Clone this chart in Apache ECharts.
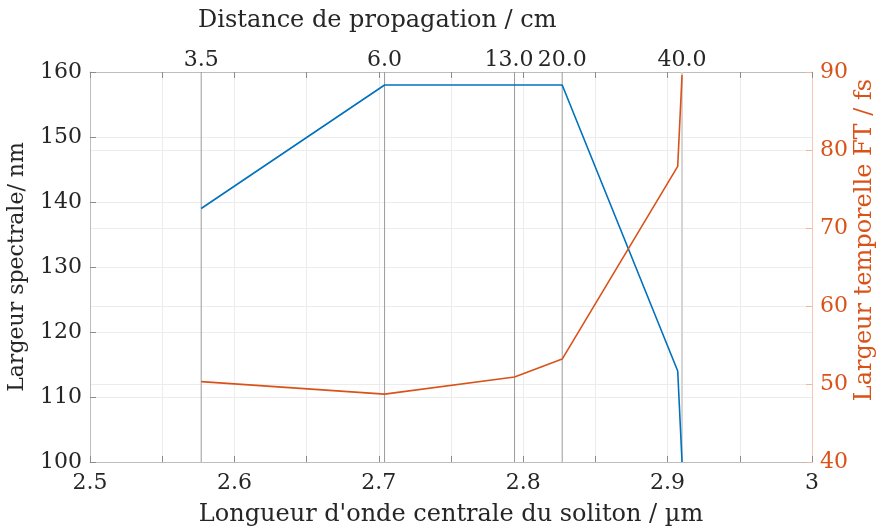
<!DOCTYPE html>
<html>
<head>
<meta charset="utf-8">
<script src="https://cdn.jsdelivr.net/npm/echarts@6/dist/echarts.min.js"></script>
<style>
  html, body { margin: 0; padding: 0; background: #fff; }
  #chart { width: 878px; height: 530px; }
</style>
</head>
<body>
<div id="chart"></div>
<script>
// Central wavelength of the soliton (µm) at each measured point
const wavelength = [2.577, 2.704, 2.794, 2.827, 2.907, 2.910];
// Spectral width (nm), left axis
const spectralWidth = [139, 158, 158, 158, 114, 100];
// Fourier-transform-limited temporal width (fs), right axis
const temporalWidth = [50.3, 48.7, 50.9, 53.2, 77.9, 89.6];
// Propagation distances (cm) marked on the top axis
const distancePositions = [2.577, 2.704, 2.794, 2.827, 2.910];
const distanceLabels = ['3.5', '6.0', '13.0', '20.0', '40.0'];
// Bottom axis tick labels
const xTickLabels = ['2.5', '2.6', '2.7', '2.8', '2.9', '3'];

const FONT = 'DejaVu Serif';
const BLUE = '#0072BD';
const ORANGE = '#D95319';
const TEXT = '#262626';
const Y_MIN = 100, Y_MAX = 160;
const LABEL_SIZE = 22;

const chart = echarts.init(document.getElementById('chart'), null, { renderer: 'canvas' });

const zip = (xs, ys) => xs.map((x, i) => [x, ys[i]]);

// One vertical guide per propagation distance, labelled above the plot.
// Labels that would collide with their right neighbour are nudged left.
function renderDistanceGuide(params, api) {
  const i = params.dataIndex;
  const x = api.value(0);
  const top = api.coord([x, Y_MAX]);
  const bottom = api.coord([x, Y_MIN]);
  const isLast = i === distancePositions.length - 1;
  let dx = 0;
  if (i < distancePositions.length - 1) {
    const nextX = api.coord([distancePositions[i + 1], Y_MAX])[0];
    const need = (distanceLabels[i].length + distanceLabels[i + 1].length) * LABEL_SIZE * 0.28 + 4;
    if (nextX - top[0] < need) dx = -(need - (nextX - top[0]));
  }
  return {
    type: 'group',
    children: [
      {
        type: 'line',
        shape: { x1: top[0], y1: top[1], x2: bottom[0], y2: bottom[1] },
        style: { stroke: isLast ? '#d4d4d4' : '#9a9a9a', lineWidth: isLast ? 2 : 1 }
      },
      {
        type: 'text',
        x: top[0] + dx, y: top[1] - 1,
        style: {
          text: distanceLabels[i],
          fontFamily: FONT, fontSize: LABEL_SIZE, fill: TEXT,
          textAlign: 'center', textVerticalAlign: 'bottom'
        }
      }
    ]
  };
}

const option = {
  animation: false,
  textStyle: { fontFamily: FONT },
  grid: { left: 90, right: 66, top: 72, bottom: 68, containLabel: false, outerBoundsMode: 'none' },
  xAxis: [
    {
      type: 'value', position: 'bottom', min: 2.5, max: 3, interval: 0.05,
      name: "Longueur d'onde centrale du soliton / µm",
      nameLocation: 'middle', nameGap: 41,
      nameTextStyle: { fontFamily: FONT, fontSize: 24, color: TEXT },
      axisLine: { lineStyle: { color: '#bdbdbd', width: 1 } },
      axisTick: { inside: true, length: 6, lineStyle: { color: '#8c8c8c' } },
      axisLabel: {
        fontFamily: FONT, fontSize: LABEL_SIZE, color: TEXT, margin: 10,
        formatter: v => {
          const k = Math.round((v - 2.5) / 0.1 * 1000) / 1000;
          return Number.isInteger(k) ? xTickLabels[k] : '';
        }
      },
      splitLine: { show: true, lineStyle: { color: '#ececec', width: 1 } }
    },
    {
      type: 'value', position: 'top', min: 2.5, max: 3, interval: 0.05,
      axisLine: { lineStyle: { color: '#bdbdbd', width: 1 } },
      axisTick: { inside: true, length: 6, lineStyle: { color: '#8c8c8c' } },
      axisLabel: { show: false },
      splitLine: { show: false }
    }
  ],
  yAxis: [
    {
      type: 'value', position: 'left', min: Y_MIN, max: Y_MAX, interval: 10,
      name: 'Largeur spectrale/ nm',
      nameLocation: 'middle', nameGap: 62, nameRotate: 90,
      nameTextStyle: { fontFamily: FONT, fontSize: 22, color: TEXT },
      axisLine: { show: true, lineStyle: { color: '#bdbdbd', width: 1 } },
      axisTick: { show: true, inside: true, length: 6, lineStyle: { color: '#8c8c8c' } },
      axisLabel: { fontFamily: FONT, fontSize: LABEL_SIZE, color: TEXT, margin: 8 },
      splitLine: { show: true, lineStyle: { color: '#ececec', width: 1 } }
    },
    {
      type: 'value', position: 'right', min: 40, max: 90, interval: 10,
      axisLine: { show: true, lineStyle: { color: '#f3c7b3', width: 1 } },
      axisTick: { show: true, inside: true, length: 6, lineStyle: { color: '#f0b89f' } },
      axisLabel: { fontFamily: FONT, fontSize: LABEL_SIZE, color: ORANGE, margin: 8 },
      splitLine: { show: true, lineStyle: { color: '#ececec', width: 1 } }
    }
  ],
  graphic: [
    {
      type: 'text', left: 198, top: 9,
      style: { text: 'Distance de propagation / cm', fontFamily: FONT, fontSize: 24, fill: TEXT }
    },
    {
      type: 'text', x: 865, y: 240, rotation: Math.PI / 2,
      style: {
        text: 'Largeur temporelle FT / fs', fontFamily: FONT, fontSize: 24, fill: ORANGE,
        textAlign: 'center', textVerticalAlign: 'middle'
      }
    }
  ],
  series: [
    {
      name: 'distances', type: 'custom', xAxisIndex: 0, yAxisIndex: 0,
      data: distancePositions.map(x => [x]),
      renderItem: renderDistanceGuide,
      clip: false, silent: true, z: 1
    },
    {
      name: 'Largeur spectrale', type: 'line', xAxisIndex: 0, yAxisIndex: 0,
      data: zip(wavelength, spectralWidth),
      showSymbol: false, symbol: 'none',
      lineStyle: { color: BLUE, width: 1.6 }, z: 3
    },
    {
      name: 'Largeur temporelle', type: 'line', xAxisIndex: 0, yAxisIndex: 1,
      data: zip(wavelength, temporalWidth),
      showSymbol: false, symbol: 'none',
      lineStyle: { color: ORANGE, width: 1.6 }, z: 3
    }
  ]
};

chart.setOption(option);
</script>
</body>
</html>
